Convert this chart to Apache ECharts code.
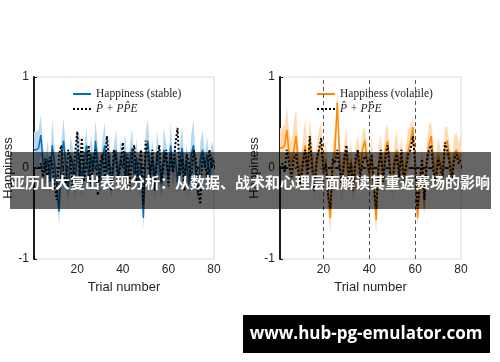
<!DOCTYPE html>
<html><head><meta charset="utf-8">
<script src="https://cdn.jsdelivr.net/npm/echarts@6/dist/echarts.min.js"></script>
<style>html,body{margin:0;padding:0;background:#fff}#c{width:500px;height:362px}</style>
</head><body><div id="c"></div>
<script>
// Trials 1..80
var trials = [];
for (var i = 1; i <= 80; i++) trials.push(i);

var xTicks = [20, 40, 60, 80];
var yTicks = [-1, 0, 1];
var changePoints = [20, 40, 60];

var stableHappy = [0.20,0.20,0.22,0.36,0.05,-0.05,0.10,-0.15,0.25,0.05,-0.20,-0.48,0.10,0.30,0.00,-0.25,0.15,0.05,-0.20,0.20,
0.10,-0.15,0.05,0.25,-0.10,0.15,-0.05,0.30,0.05,-0.15,0.10,0.25,-0.05,0.15,-0.20,0.05,0.20,-0.10,0.10,0.00,
0.18,-0.12,0.05,0.22,-0.08,0.12,-0.15,0.05,-0.55,0.15,0.30,-0.05,0.10,-0.20,0.18,0.02,-0.18,0.20,0.08,-0.10,
0.25,-0.05,0.12,-0.15,0.05,0.22,-0.10,0.08,-0.18,0.15,0.25,-0.05,-0.30,0.10,0.20,0.00,0.15,-0.10,0.12,0.05];
var stableSpread = [0.20,0.20,0.20,0.22,0.18,0.15,0.20,0.15,0.28,0.18,0.15,0.15,0.20,0.25,0.18,0.15,0.20,0.18,0.15,0.22,
0.25,0.18,0.15,0.20,0.15,0.22,0.18,0.22,0.18,0.15,0.20,0.25,0.15,0.22,0.15,0.18,0.22,0.15,0.20,0.18,
0.20,0.15,0.18,0.22,0.15,0.20,0.15,0.18,0.12,0.22,0.25,0.15,0.20,0.15,0.22,0.18,0.15,0.25,0.18,0.15,
0.25,0.15,0.20,0.15,0.18,0.25,0.15,0.18,0.15,0.22,0.28,0.15,0.12,0.18,0.22,0.15,0.20,0.15,0.18,0.15];
var stableModel = [0.00,0.00,0.00,0.05,-0.10,0.10,-0.15,0.12,0.05,-0.20,-0.35,0.15,0.25,-0.10,-0.20,0.20,0.10,-0.25,0.15,0.40,
-0.10,0.33,-0.15,0.05,0.25,-0.20,0.10,0.20,-0.30,0.05,0.15,-0.10,0.35,0.00,-0.25,0.20,0.10,-0.15,0.05,0.28,
-0.10,0.15,-0.20,0.10,0.25,-0.15,0.05,0.20,-0.40,0.30,0.15,-0.10,0.20,-0.25,0.10,0.25,-0.15,0.05,0.20,-0.20,
0.15,-0.05,0.25,0.44,-0.10,0.10,-0.25,0.15,0.05,-0.15,0.20,0.10,-0.20,-0.40,0.15,0.05,-0.10,0.20,0.00,0.10];

var volatileHappy = [0.22,0.22,0.25,0.42,0.15,0.05,0.20,0.35,0.05,-0.10,0.10,0.25,0.00,0.30,0.10,-0.15,0.05,0.20,0.25,-0.05,
0.10,-0.30,-0.55,0.05,0.20,0.72,0.10,-0.15,0.05,0.20,-0.10,0.10,-0.20,0.05,0.15,-0.05,0.20,0.30,0.05,-0.10,
0.15,-0.25,-0.57,0.05,0.15,-0.10,0.20,0.30,0.00,-0.15,0.10,0.20,-0.05,0.15,-0.10,0.05,0.20,0.30,0.45,0.05,
-0.55,-0.20,0.05,-0.45,0.10,0.25,0.35,0.05,-0.10,0.15,0.05,-0.05,0.25,0.30,0.10,-0.10,0.15,0.20,0.10,0.15];
var volatileSpread = [0.22,0.22,0.22,0.25,0.25,0.22,0.30,0.30,0.22,0.20,0.22,0.30,0.20,0.25,0.22,0.18,0.20,0.22,0.25,0.20,
0.22,0.22,0.18,0.20,0.25,0.12,0.22,0.20,0.20,0.25,0.20,0.22,0.18,0.20,0.22,0.18,0.20,0.15,0.20,0.18,
0.20,0.18,0.18,0.20,0.22,0.18,0.22,0.18,0.20,0.18,0.20,0.22,0.18,0.20,0.18,0.20,0.22,0.18,0.10,0.20,
0.10,0.18,0.20,0.08,0.20,0.22,0.15,0.20,0.18,0.20,0.18,0.18,0.20,0.15,0.18,0.18,0.20,0.20,0.18,0.20];
var volatileModel = [0.00,0.05,-0.05,0.20,0.05,-0.10,0.10,0.15,-0.05,-0.20,0.05,0.20,-0.10,0.35,0.00,-0.25,0.10,0.20,0.33,-0.05,
0.05,-0.30,-0.45,0.10,0.05,0.20,0.00,-0.20,0.10,0.25,-0.15,0.05,-0.25,0.10,0.20,-0.10,0.05,0.13,0.10,-0.05,
0.15,-0.20,-0.45,0.00,0.20,-0.15,0.10,0.25,-0.05,-0.20,0.05,0.15,-0.10,0.20,-0.15,0.00,0.15,0.20,0.35,0.05,
-0.45,-0.15,0.10,-0.35,0.05,0.20,0.25,-0.05,-0.15,0.10,0.00,-0.10,0.28,0.20,0.05,-0.15,0.10,0.15,0.05,0.10];

var titleText = '亚历山大复出表现分析：从数据、战术和心理层面解读其重返赛场的影响';
var siteText = 'www.hub-pg-emulator.com';
var modelName = 'P\u0302 + PP\u0302E';

function pairs(arr) { return arr.map(function (v, i) { return [trials[i], v]; }); }

var tickFont = { color: '#262626', fontSize: 12, fontFamily: 'Liberation Sans' };

function xAxis(idx) {
  return {
    gridIndex: idx, type: 'value', min: 1, max: 80,
    name: 'Trial number', nameLocation: 'middle', nameGap: 22,
    nameTextStyle: { color: '#262626', fontSize: 13, fontFamily: 'Liberation Sans' },
    axisLine: { lineStyle: { color: '#1a1a1a', width: 2 } },
    axisTick: { inside: true, length: 3, customValues: xTicks, lineStyle: { color: '#1a1a1a' } },
    axisLabel: Object.assign({ customValues: xTicks, margin: 5 }, tickFont),
    splitLine: { show: false }
  };
}
function yAxis(idx) {
  return {
    gridIndex: idx, type: 'value', min: -1, max: 1, interval: 1,
    name: 'Happiness', nameLocation: 'middle', nameGap: 15,
    nameTextStyle: { color: '#262626', fontSize: 13, fontFamily: 'Liberation Sans' },
    axisLine: { show: true, lineStyle: { color: '#1a1a1a', width: 2 } },
    axisTick: { show: true, inside: true, length: 3, lineStyle: { color: '#1a1a1a' } },
    axisLabel: Object.assign({ margin: 5 }, tickFont),
    splitLine: { show: false }
  };
}
// Confidence band drawn as one polygon through the axis scales
function bandSeries(idx, h, s, color) {
  var data = h.map(function (v, i) { return [trials[i], v - s[i], v + s[i]]; });
  return {
    type: 'custom', name: 'band' + idx, xAxisIndex: idx, yAxisIndex: idx, data: data, silent: true, z: 1,
    encode: { x: 0, y: [1, 2] },
    renderItem: function (params, api) {
      if (params.dataIndex !== 0) return null;
      var up = [], lo = [];
      for (var k = 0; k < data.length; k++) {
        up.push(api.coord([data[k][0], data[k][2]]));
        lo.unshift(api.coord([data[k][0], data[k][1]]));
      }
      return { type: 'polygon', shape: { points: up.concat(lo) }, style: { fill: color }, silent: true };
    }
  };
}

var series = [];
series.push(bandSeries(0, stableHappy, stableSpread, '#b9d8ef'));
series.push({ type: 'line', name: 'Happiness (stable)', xAxisIndex: 0, yAxisIndex: 0, data: pairs(stableHappy),
  symbol: 'none', lineStyle: { color: '#0072BD', width: 1.5 }, itemStyle: { color: '#0072BD' }, z: 3 });
series.push({ type: 'line', name: modelName, xAxisIndex: 0, yAxisIndex: 0, data: pairs(stableModel),
  symbol: 'none', lineStyle: { color: '#000', width: 2, type: [2, 2] }, itemStyle: { color: '#000' }, z: 4 });

series.push(bandSeries(1, volatileHappy, volatileSpread, '#ffdcb5'));
series.push({ type: 'line', name: 'Happiness (volatile)', xAxisIndex: 1, yAxisIndex: 1, data: pairs(volatileHappy),
  symbol: 'none', lineStyle: { color: '#FF8800', width: 1.5 }, itemStyle: { color: '#FF8800' }, z: 3,
  markLine: { silent: true, symbol: 'none', label: { show: false }, z: 5,
    lineStyle: { color: '#555', type: [4, 3], width: 1 },
    data: changePoints.map(function (c) { return { xAxis: c }; }) } });
series.push({ type: 'line', name: modelName, xAxisIndex: 1, yAxisIndex: 1, data: pairs(volatileModel),
  symbol: 'none', lineStyle: { color: '#000', width: 2, type: [2, 2] }, itemStyle: { color: '#000' }, z: 4 });

function legend(left, first) {
  return {
    left: left, top: 83, orient: 'vertical', itemWidth: 18, itemHeight: 8, itemGap: 3,
    data: [first, modelName], selectedMode: false,
    itemStyle: { opacity: 0 },
    formatter: function (n) { return n === modelName ? '{m|' + n + '}' : '{t|' + n + '}'; },
    textStyle: { fontFamily: 'Liberation Serif', fontSize: 11, color: '#222',
      rich: { t: { fontFamily: 'Liberation Serif', fontSize: 11.5, color: '#222' },
              m: { fontFamily: 'Liberation Serif', fontStyle: 'italic', fontSize: 11.5, color: '#222' } } }
  };
}

var chart = echarts.init(document.getElementById('c'), null, { renderer: 'canvas' });
chart.setOption({
  animation: false,
  backgroundColor: '#fff',
  grid: [
    { left: 34, top: 77, width: 180, height: 182, show: true, borderColor: '#d9d9d9', borderWidth: 1, backgroundColor: 'transparent' },
    { left: 280, top: 77, width: 181, height: 182, show: true, borderColor: '#d9d9d9', borderWidth: 1, backgroundColor: 'transparent' }
  ],
  xAxis: [xAxis(0), xAxis(1)],
  yAxis: [yAxis(0), yAxis(1)],
  legend: [legend(67, 'Happiness (stable)'), legend(311, 'Happiness (volatile)')],
  series: series,
  graphic: [
    { type: 'rect', z: 100, shape: { x: 10, y: 152, width: 481, height: 57 }, style: { fill: 'rgba(0,0,0,0.6)' } },
    { type: 'text', z: 101, x: 250, y: 182, style: { text: titleText, fill: '#fff', font: 'bold 15px "Noto Sans CJK SC"', align: 'center', verticalAlign: 'middle' } },
    { type: 'rect', z: 100, shape: { x: 243, y: 315, width: 247, height: 38 }, style: { fill: '#000' } },
    { type: 'text', z: 101, x: 366, y: 334, style: { text: siteText, fill: '#fff', font: 'bold 17px "Open Sans"', align: 'center', verticalAlign: 'middle' } }
  ]
});
</script></body></html>
